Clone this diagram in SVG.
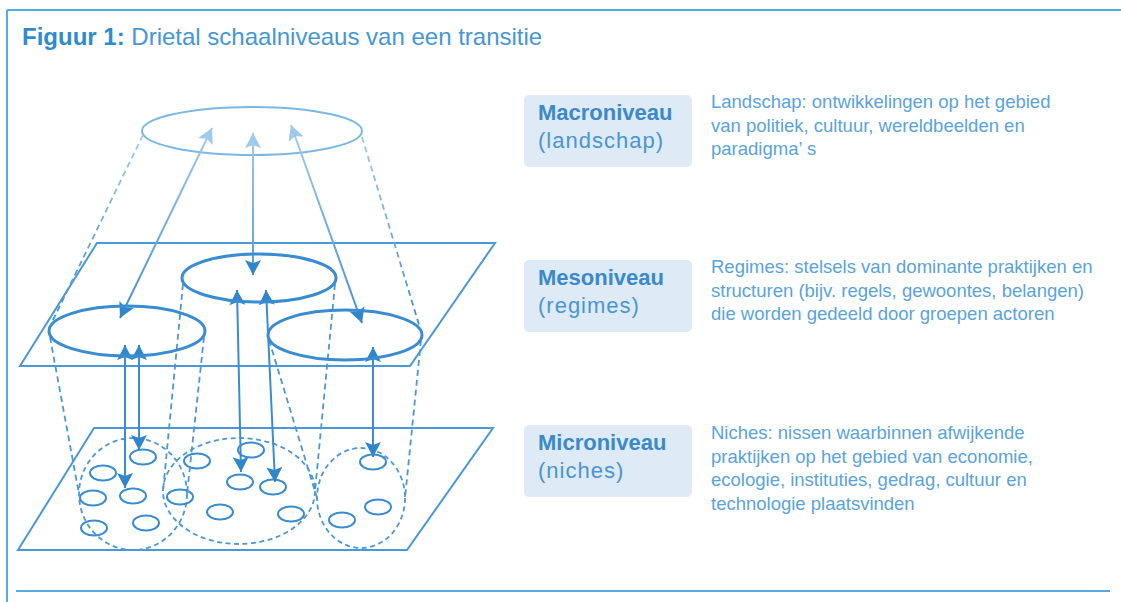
<svg xmlns="http://www.w3.org/2000/svg" width="1121" height="602" viewBox="0 0 1121 602">
<style>
  text { font-family: "Liberation Sans", Arial, sans-serif; }
  .title-b { font-size: 24px; font-weight: bold; fill: #2f8bcd; }
  .title-r { font-size: 24px; fill: #4796d4; }
  .lbl-b { font-size: 22px; font-weight: bold; fill: #3a89c9; }
  .lbl-r { font-size: 22px; fill: #4a95d0; letter-spacing: 1px; }
  .desc { font-size: 18.5px; fill: #5aa3db; }
  .box { fill: #deebf7; }
  .plane { fill: none; stroke: #4a98d6; stroke-width: 2; }
  .regime { fill: none; stroke: #3a8cd0; stroke-width: 3; }
  .niche { fill: none; stroke: #3a8cd0; stroke-width: 2; }
  .cluster { fill: none; stroke: #4a98d6; stroke-width: 1.8; stroke-dasharray: 5 3.5; }
  .dash { fill: none; stroke: #4a98d6; stroke-width: 1.8; stroke-dasharray: 6 4; }
  .dash-top { fill: none; stroke: url(#gradTop); stroke-width: 1.8; stroke-dasharray: 6 4; }
  .arr-top { fill: none; stroke: url(#gradTop); stroke-width: 2; marker-start: url(#headDark); marker-end: url(#headLight); }
  .arr { fill: none; stroke: #3a8cd0; stroke-width: 2; marker-start: url(#headDark); marker-end: url(#headDark); }
</style>
<defs>
  <linearGradient id="gradTop" gradientUnits="userSpaceOnUse" x1="0" y1="120" x2="0" y2="330">
    <stop offset="0" stop-color="#a6d0ee"/>
    <stop offset="1" stop-color="#3a8cd0"/>
  </linearGradient>
  <marker id="headDark" markerUnits="userSpaceOnUse" markerWidth="18" markerHeight="18" refX="15" refY="8" orient="auto-start-reverse" overflow="visible">
    <path d="M0,0 L15,8 L0,16 L3,8 Z" fill="#2f86c9"/>
  </marker>
  <marker id="headLight" markerUnits="userSpaceOnUse" markerWidth="18" markerHeight="18" refX="15" refY="8" orient="auto-start-reverse" overflow="visible">
    <path d="M0,0 L15,8 L0,16 L3,8 Z" fill="#9ccbec"/>
  </marker>
</defs>

<g id="frame">
  <line x1="7" y1="10" x2="1121" y2="10" stroke="#4fb0e8" stroke-width="2"/>
  <line x1="7" y1="10" x2="7" y2="602" stroke="#4fb0e8" stroke-width="2"/>
  <line x1="16" y1="591" x2="1110" y2="591" stroke="#5aa8dc" stroke-width="2"/>
</g>

<g id="title">
  <text x="22" y="45"><tspan class="title-b">Figuur 1:</tspan><tspan class="title-r"> Drietal schaalniveaus van een transitie</tspan></text>
</g>

<g id="planes">
  <polygon class="plane" points="97,243 495,243 410,366 20,366"/>
  <polygon class="plane" points="94,428 493,428 407,550 18,550"/>
</g>

<g id="landscape">
  <ellipse cx="252" cy="131" rx="110" ry="24" fill="none" stroke="#7cb8e4" stroke-width="2"/>
</g>

<g id="niches">
  <ellipse class="cluster" cx="133" cy="494" rx="54" ry="56"/>
  <ellipse class="cluster" cx="239" cy="491" rx="76" ry="53"/>
  <ellipse class="cluster" cx="361" cy="498" rx="44" ry="50"/>
  <ellipse class="niche" cx="143" cy="457" rx="13" ry="7.5"/>
  <ellipse class="niche" cx="103" cy="473" rx="13" ry="7.5"/>
  <ellipse class="niche" cx="133" cy="496" rx="13" ry="7.5"/>
  <ellipse class="niche" cx="93" cy="498" rx="13" ry="7.5"/>
  <ellipse class="niche" cx="180" cy="497" rx="13" ry="7.5"/>
  <ellipse class="niche" cx="197" cy="461" rx="13" ry="7.5"/>
  <ellipse class="niche" cx="251" cy="450" rx="13" ry="7.5"/>
  <ellipse class="niche" cx="240" cy="482" rx="13" ry="7.5"/>
  <ellipse class="niche" cx="273" cy="487" rx="13" ry="7.5"/>
  <ellipse class="niche" cx="220" cy="512" rx="13" ry="7.5"/>
  <ellipse class="niche" cx="291" cy="514" rx="13" ry="7.5"/>
  <ellipse class="niche" cx="146" cy="523" rx="13" ry="7.5"/>
  <ellipse class="niche" cx="94" cy="528" rx="13" ry="7.5"/>
  <ellipse class="niche" cx="373" cy="462" rx="13" ry="7.5"/>
  <ellipse class="niche" cx="378" cy="507" rx="13" ry="7.5"/>
  <ellipse class="niche" cx="342" cy="520" rx="13" ry="7.5"/>
</g>

<g id="connectors">
  <line class="dash-top" x1="143" y1="135" x2="52" y2="322"/>
  <line class="dash-top" x1="362" y1="137" x2="420" y2="328"/>
  <line class="dash" x1="50" y1="337" x2="79" y2="494"/>
  <line class="dash" x1="204" y1="337" x2="187" y2="494"/>
  <line class="dash" x1="183" y1="284" x2="163" y2="491"/>
  <line class="dash" x1="335" y1="284" x2="315" y2="491"/>
  <line class="dash" x1="269" y1="340" x2="317" y2="498"/>
  <line class="dash" x1="421" y1="340" x2="405" y2="498"/>
  <line class="arr-top" x1="120" y1="318" x2="212" y2="128"/>
  <line class="arr-top" x1="253" y1="275" x2="253" y2="133"/>
  <line class="arr-top" x1="362" y1="323" x2="291" y2="125"/>
  <line class="arr" x1="125" y1="345" x2="125" y2="488"/>
  <line class="arr" x1="139" y1="345" x2="139" y2="450"/>
  <line class="arr" x1="237" y1="290" x2="241" y2="472"/>
  <line class="arr" x1="266" y1="290" x2="275" y2="482"/>
  <line class="arr" x1="373" y1="347" x2="373" y2="457"/>
</g>

<g id="regimes">
  <ellipse class="regime" cx="259" cy="278" rx="77" ry="24"/>
  <ellipse class="regime" cx="127" cy="331" rx="78" ry="25"/>
  <ellipse class="regime" cx="345" cy="335" rx="77" ry="25"/>
</g>

<g id="macro">
  <rect class="box" x="524" y="95" width="168" height="72" rx="5"/>
  <text class="lbl-b" x="538" y="120">Macroniveau</text>
  <text class="lbl-r" x="538" y="148">(landschap)</text>
  <text class="desc" x="711" y="108">Landschap: ontwikkelingen op het gebied</text>
  <text class="desc" x="711" y="131.5">van politiek, cultuur, wereldbeelden en</text>
  <text class="desc" x="711" y="155">paradigma’ s</text>
</g>

<g id="meso">
  <rect class="box" x="524" y="260" width="168" height="72" rx="5"/>
  <text class="lbl-b" x="538" y="285">Mesoniveau</text>
  <text class="lbl-r" x="538" y="313">(regimes)</text>
  <text class="desc" x="711" y="273">Regimes: stelsels van dominante praktijken en</text>
  <text class="desc" x="711" y="296.5">structuren (bijv. regels, gewoontes, belangen)</text>
  <text class="desc" x="711" y="320">die worden gedeeld door groepen actoren</text>
</g>

<g id="micro">
  <rect class="box" x="524" y="425" width="168" height="72" rx="5"/>
  <text class="lbl-b" x="538" y="450">Microniveau</text>
  <text class="lbl-r" x="538" y="478">(niches)</text>
  <text class="desc" x="711" y="439">Niches: nissen waarbinnen afwijkende</text>
  <text class="desc" x="711" y="462.5">praktijken op het gebied van economie,</text>
  <text class="desc" x="711" y="486">ecologie, instituties, gedrag, cultuur en</text>
  <text class="desc" x="711" y="509.5">technologie plaatsvinden</text>
</g>
</svg>
